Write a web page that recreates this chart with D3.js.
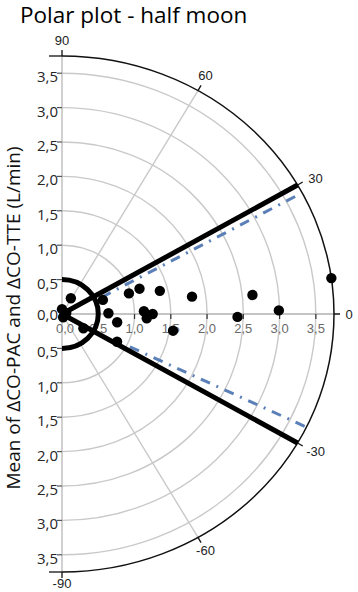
<!DOCTYPE html>
<html>
<head>
<meta charset="utf-8">
<script src="https://cdn.jsdelivr.net/npm/d3@7"></script>
<style>
  body { margin: 0; background: #fff; }
  svg { display: block; }
</style>
</head>
<body>
<div id="chart"></div>
<script>
var width = 358;
var height = 592;
var centerX = 62;
var centerY = 314;

// data: radius = mean of the two CO changes (L/min), angle in degrees
var meanCO = [0.07, 0.06, 0.05, 0.26, 0.36, 0.60, 0.64, 0.77, 0.86, 0.97, 1.13, 1.39,
              1.13, 1.17, 1.25, 1.55, 1.81, 2.42, 2.64, 2.99, 3.75];
var polarAngle = [90, 14, -72, 62, -35, 20, 1, -9, -28, 18, 19, 14,
                  2, -3, 0, -9, 8, -1, 6, 1, 8];

var ringValues = [0.5, 1.0, 1.5, 2.0, 2.5, 3.0, 3.5];
var ringLabels = ["0,5", "1,0", "1,5", "2,0", "2,5", "3,0", "3,5"];
var axisLabels = ["0,0", "0,5", "1,0", "1,5", "2,0", "2,5", "3,0", "3,5"];
var axisValues = [0, 0.5, 1.0, 1.5, 2.0, 2.5, 3.0, 3.5];
var angleTicks = [90, 60, 30, 0, -30, -60, -90];
var maxRadius = 3.75;

// polar limits (black) and the dash-dot lines (blue)
var limitAngles = [30, -30];
var limitRadius = 0.5;
var upperLineR = [0.6, 3.72];
var upperLineA = [24, 28];
var lowerLineR = [1.05, 3.75];
var lowerLineA = [-27, -26];

var svg = d3.select("#chart")
            .append("svg")
            .attr("width", width)
            .attr("height", height);

var rx = d3.scaleLinear().domain([0, maxRadius]).range([0, 272]);
var ry = d3.scaleLinear().domain([0, maxRadius]).range([0, 258]);

function px(r, a) { return centerX + rx(r) * Math.cos(a * Math.PI / 180); }
function py(r, a) { return centerY - ry(r) * Math.sin(a * Math.PI / 180); }

function halfRing(r) {
    return "M" + centerX + "," + (centerY - ry(r)) +
           " A" + rx(r) + "," + ry(r) + " 0 0 1 " + centerX + "," + (centerY + ry(r));
}

// title
svg.append("text")
    .attr("x", 20)
    .attr("y", 23)
    .text("Polar plot - half moon")
    .style("font-family", "Open Sans, sans-serif")
    .style("font-size", "22.5px")
    .attr("fill", "#000");

// y title
svg.append("text")
    .attr("transform", "translate(20," + 318 + ") rotate(-90)")
    .style("text-anchor", "middle")
    .text("Mean of ΔCO-PAC and ΔCO-TTE (L/min)")
    .style("font-family", "Open Sans, sans-serif")
    .style("font-size", "19px")
    .attr("fill", "#111");

// grid rings
svg.selectAll(".ring")
    .data(ringValues)
    .enter()
    .append("path")
    .attr("d", function(d) { return halfRing(d); })
    .attr("fill", "none")
    .attr("stroke", "#c9c9c9")
    .attr("stroke-width", 1.4);

// spokes
svg.selectAll(".spoke")
    .data(angleTicks.filter(function(a) { return Math.abs(a) != 90 && a != 0; }))
    .enter()
    .append("line")
    .attr("x1", centerX)
    .attr("y1", centerY)
    .attr("x2", function(a) { return px(maxRadius, a); })
    .attr("y2", function(a) { return py(maxRadius, a); })
    .attr("stroke", "#c9c9c9")
    .attr("stroke-width", 1.4);

// vertical axis
svg.append("line")
    .attr("x1", centerX).attr("y1", centerY - ry(maxRadius))
    .attr("x2", centerX).attr("y2", centerY + ry(maxRadius))
    .attr("stroke", "#bdbdbd")
    .attr("stroke-width", 1.4);

// horizontal axis
svg.append("line")
    .attr("x1", centerX).attr("y1", centerY)
    .attr("x2", px(maxRadius, 0) + 6).attr("y2", centerY)
    .attr("stroke", "#b0b0b0")
    .attr("stroke-width", 1.4);

svg.selectAll(".xtick")
    .data(axisValues)
    .enter()
    .append("line")
    .attr("x1", function(d) { return px(d, 0); })
    .attr("x2", function(d) { return px(d, 0); })
    .attr("y1", centerY)
    .attr("y2", centerY + 5)
    .attr("stroke", "#333")
    .attr("stroke-width", 1.2);

svg.selectAll(".xlabel")
    .data(axisValues)
    .enter()
    .append("text")
    .attr("x", function(d, i) { return px(d, 0) + (i == 0 ? 3 : 0); })
    .attr("y", centerY + 19)
    .style("text-anchor", "middle")
    .text(function(d, i) { return axisLabels[i]; })
    .style("font-family", "Liberation Sans, Arial, sans-serif")
    .style("font-size", "13px")
    .attr("fill", "#6a6a6a");

// left axis ticks and labels (top and bottom halves)
[1, -1].forEach(function(side) {
    svg.selectAll(null)
        .data(ringValues)
        .enter()
        .append("line")
        .attr("x1", centerX - 5)
        .attr("x2", centerX)
        .attr("y1", function(d) { return centerY - side * ry(d); })
        .attr("y2", function(d) { return centerY - side * ry(d); })
        .attr("stroke", "#555")
        .attr("stroke-width", 1.2);

    svg.selectAll(null)
        .data(ringValues)
        .enter()
        .append("text")
        .attr("x", centerX - 4)
        .attr("y", function(d) { return centerY - side * ry(d) + 9; })
        .style("text-anchor", "end")
        .text(function(d, i) { return ringLabels[i]; })
        .style("font-family", "Open Sans, sans-serif")
        .style("font-size", "15px")
        .attr("fill", "#262626");

    svg.append("line")
        .attr("x1", centerX - 13)
        .attr("x2", centerX)
        .attr("y1", centerY - side * ry(maxRadius))
        .attr("y2", centerY - side * ry(maxRadius))
        .attr("stroke", "#111")
        .attr("stroke-width", 1.3);
});

svg.append("text")
    .attr("x", centerX - 4)
    .attr("y", centerY + 6)
    .style("text-anchor", "end")
    .text("0,0")
    .style("font-family", "Open Sans, sans-serif")
    .style("font-size", "15px")
    .attr("fill", "#262626");

// outer boundary
svg.append("path")
    .attr("d", halfRing(maxRadius))
    .attr("fill", "none")
    .attr("stroke", "#111")
    .attr("stroke-width", 1.5);

// angle ticks and labels
svg.selectAll(".atick")
    .data(angleTicks)
    .enter()
    .append("line")
    .attr("x1", function(a) { return px(maxRadius, a); })
    .attr("y1", function(a) { return py(maxRadius, a); })
    .attr("x2", function(a) { return centerX + (rx(maxRadius) + 6) * Math.cos(a * Math.PI / 180); })
    .attr("y2", function(a) { return centerY - (ry(maxRadius) + 6) * Math.sin(a * Math.PI / 180); })
    .attr("stroke", "#111")
    .attr("stroke-width", 1.3);

svg.selectAll(".alabel")
    .data(angleTicks)
    .enter()
    .append("text")
    .attr("x", function(a) { return centerX + (rx(maxRadius) + 15) * Math.cos(a * Math.PI / 180) + (Math.abs(a) == 30 ? 5 : 0); })
    .attr("y", function(a) {
        var shift = a == 60 ? -3 : (a == 90 ? -1 : (a == -90 ? -4 : 0));
        return centerY - (ry(maxRadius) + 15) * Math.sin(a * Math.PI / 180) + 5 + shift;
    })
    .style("text-anchor", "middle")
    .text(function(a) { return a; })
    .style("font-family", "Liberation Sans, Arial, sans-serif")
    .style("font-size", "13px")
    .attr("fill", "#222");

// blue dash-dot lines
[[upperLineR, upperLineA], [lowerLineR, lowerLineA]].forEach(function(ln) {
    svg.append("line")
        .attr("x1", px(ln[0][0], ln[1][0]))
        .attr("y1", py(ln[0][0], ln[1][0]))
        .attr("x2", px(ln[0][1], ln[1][1]))
        .attr("y2", py(ln[0][1], ln[1][1]))
        .attr("stroke", "#5b80b8")
        .attr("stroke-width", 3)
        .attr("stroke-dasharray", "10,7,2,7");
});

// black limit lines
svg.selectAll(".limit")
    .data(limitAngles)
    .enter()
    .append("line")
    .attr("x1", centerX)
    .attr("y1", centerY)
    .attr("x2", function(a) { return px(maxRadius, a); })
    .attr("y2", function(a) { return py(maxRadius, a); })
    .attr("stroke", "#000")
    .attr("stroke-width", 5);

svg.append("path")
    .attr("d", halfRing(limitRadius))
    .attr("fill", "none")
    .attr("stroke", "#000")
    .attr("stroke-width", 5);

// points
svg.selectAll(".pt")
    .data(meanCO)
    .enter()
    .append("circle")
    .attr("cx", function(d, i) { return px(d, polarAngle[i]); })
    .attr("cy", function(d, i) { return py(d, polarAngle[i]); })
    .attr("r", 5.2)
    .attr("fill", "#000");
</script>
</body>
</html>
